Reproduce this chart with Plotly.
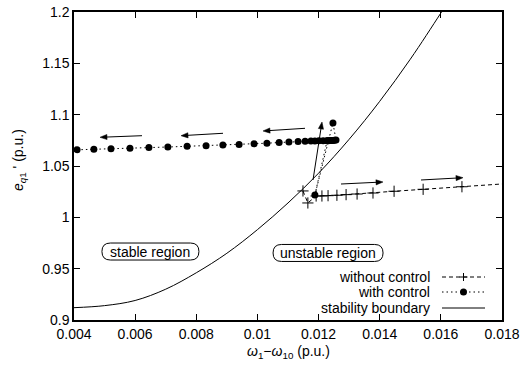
import math
import plotly.graph_objects as go

# ---------------- data ----------------
boundary_x = [0.004, 0.005, 0.006, 0.007, 0.008, 0.009, 0.010, 0.011, 0.012,
              0.013, 0.014, 0.015, 0.016, 0.0165]
boundary_y = [0.912, 0.914, 0.919, 0.930, 0.946, 0.965, 0.988, 1.014, 1.043,
              1.076, 1.113, 1.154, 1.199, 1.222]

without_x = [0.01149, 0.01165, 0.01192, 0.01211, 0.01231, 0.01260, 0.01290,
             0.01326, 0.01378, 0.01447, 0.01542, 0.01669, 0.01850]
without_y = [1.0257, 1.0140, 1.0208, 1.0208, 1.0211, 1.0215, 1.0221,
             1.0227, 1.0237, 1.0254, 1.0273, 1.0298, 1.0335]

with_x = [0.01228, 0.01188, 0.01247, 0.01257, 0.01252, 0.01247, 0.01242,
          0.01237, 0.01232, 0.01228, 0.01215, 0.01201, 0.01188, 0.01175,
          0.01156, 0.01133, 0.01103, 0.01071, 0.01031, 0.00989, 0.00940,
          0.00887, 0.00832, 0.00770, 0.00707, 0.00645, 0.00583, 0.00521,
          0.00465, 0.00410]
with_y = [1.0747, 1.0218, 1.0919, 1.0753, 1.0750, 1.0748, 1.0748,
          1.0748, 1.0747, 1.0747, 1.0746, 1.0745, 1.0744, 1.0743,
          1.0741, 1.0738, 1.0734, 1.0729, 1.0722, 1.0716, 1.0710,
          1.0705, 1.0698, 1.0692, 1.0685, 1.0679, 1.0673, 1.0667,
          1.0662, 1.0658]

x_ticks = [0.004, 0.006, 0.008, 0.01, 0.012, 0.014, 0.016, 0.018]
y_ticks = [0.9, 0.95, 1.0, 1.05, 1.1, 1.15, 1.2]
x_tick_labels = ["0.004", "0.006", "0.008", "0.01", "0.012", "0.014", "0.016", "0.018"]
y_tick_labels = ["0.9", "0.95", "1", "1.05", "1.1", "1.15", "1.2"]

# direction arrows: (tail_x, tail_y, head_x, head_y)
arrow_tail_x = [0.006224, 0.008874, 0.011556, 0.012734, 0.015351, 0.011818]
arrow_tail_y = [1.07952, 1.08186, 1.08672, 1.03247, 1.03637, 1.03637]
arrow_head_x = [0.00485, 0.00750, 0.010182, 0.014108, 0.016725, 0.012112]
arrow_head_y = [1.07796, 1.07950, 1.08410, 1.03442, 1.03861, 1.09286]

region_labels = ["stable region", "unstable region"]
region_x = [0.00650, 0.01231]
region_y = [0.9667, 0.9653]
region_w_px = [97, 110]

# ---------------- layout constants ----------------
W, H = 520, 367
ML, MR, MT, MB = 74, 18, 12, 47
XR = [0.004, 0.018]
YR = [0.9, 1.2]
PW, PH = W - ML - MR, H - MT - MB
DX = (XR[1] - XR[0]) / PW
DY = (YR[1] - YR[0]) / PH
FONT = "Liberation Sans, Arial, Helvetica, sans-serif"

fig = go.Figure()

fig.add_trace(go.Scatter(
    x=without_x, y=without_y, mode="lines+markers", name="without control",
    line=dict(color="black", width=1, dash="4px,3px"),
    marker=dict(symbol="cross-thin", size=8, line=dict(color="black", width=1)),
    showlegend=False, cliponaxis=True))

fig.add_trace(go.Scatter(
    x=with_x, y=with_y, mode="lines+markers", name="with control",
    line=dict(color="black", width=1, dash="1.5px,3px"),
    marker=dict(symbol="circle", size=7, color="black"),
    showlegend=False, cliponaxis=True))

fig.add_trace(go.Scatter(
    x=boundary_x, y=boundary_y, mode="lines", name="stability boundary",
    line=dict(color="black", width=1, shape="spline"),
    showlegend=False))

annotations = []
shapes = []

# arrows drawn as shapes: shaft + filled head
HEAD_L, HEAD_W = 7.0, 2.6
for tx, ty, hx, hy in zip(arrow_tail_x, arrow_tail_y, arrow_head_x, arrow_head_y):
    vx = (hx - tx) / DX
    vy = (hy - ty) / DY
    ln = math.hypot(vx, vy)
    ux, uy = vx / ln, vy / ln
    nx, ny = -uy, ux
    shapes.append(dict(type="line", xref="x", yref="y", x0=tx, y0=ty,
                       x1=hx - ux * HEAD_L * 0.8 * DX, y1=hy - uy * HEAD_L * 0.8 * DY,
                       line=dict(color="black", width=1)))
    bx, by = -ux * HEAD_L, -uy * HEAD_L
    p1 = (bx + nx * HEAD_W, by + ny * HEAD_W)
    p2 = (bx - nx * HEAD_W, by - ny * HEAD_W)
    path = f"M 0,0 L {p1[0]:.3f},{p1[1]:.3f} L {p2[0]:.3f},{p2[1]:.3f} Z"
    shapes.append(dict(type="path", xref="x", yref="y", xsizemode="pixel",
                       ysizemode="pixel", xanchor=hx, yanchor=hy, path=path,
                       fillcolor="black", line=dict(color="black", width=0.5)))

for lab, cx, cy, wpx in zip(region_labels, region_x, region_y, region_w_px):
    annotations.append(dict(x=cx, y=cy, xref="x", yref="y", text=lab,
                            showarrow=False, font=dict(size=14, color="black", family=FONT)))
    hpx = 17
    hw = wpx / 2 * DX
    hh = hpx / 2 * DY
    rx = hpx / 2 * DX
    x0, x1 = cx - hw, cx + hw
    y0, y1 = cy - hh, cy + hh
    path = (f"M {x0+rx},{y0} L {x1-rx},{y0} Q {x1},{y0} {x1},{cy} "
            f"Q {x1},{y1} {x1-rx},{y1} L {x0+rx},{y1} Q {x0},{y1} {x0},{cy} "
            f"Q {x0},{y0} {x0+rx},{y0} Z")
    shapes.append(dict(type="path", path=path, xref="x", yref="y",
                       line=dict(color="black", width=1)))

# manual gnuplot-style key (text then sample)
def px2paper_x(px):
    return (px - ML) / PW

def py2paper_y(py):
    return (H - MB - py) / PH

key_names = ["without control", "with control", "stability boundary"]
key_dash = ["4px,3px", "1.5px,3px", "solid"]
key_py = [277, 292, 308]
for name, dash, py in zip(key_names, key_dash, key_py):
    yp = py2paper_y(py)
    annotations.append(dict(x=px2paper_x(432), y=yp, xref="paper", yref="paper",
                            xanchor="right", yanchor="middle", text=name, showarrow=False,
                            font=dict(size=14, color="black", family=FONT)))
    shapes.append(dict(type="line", xref="paper", yref="paper",
                       x0=px2paper_x(442), x1=px2paper_x(485), y0=yp, y1=yp,
                       line=dict(color="black", width=1, dash=dash)))
# key markers
kx = px2paper_x(463.5)
ky = py2paper_y(277)
shapes.append(dict(type="line", xref="paper", yref="paper", xsizemode="pixel",
                   ysizemode="pixel", xanchor=kx, yanchor=ky,
                   x0=-4, x1=4, y0=0, y1=0, line=dict(color="black", width=1)))
shapes.append(dict(type="line", xref="paper", yref="paper", xsizemode="pixel",
                   ysizemode="pixel", xanchor=kx, yanchor=ky,
                   x0=0, x1=0, y0=-4, y1=4, line=dict(color="black", width=1)))
ky2 = py2paper_y(292)
shapes.append(dict(type="circle", xref="paper", yref="paper", xsizemode="pixel",
                   ysizemode="pixel", xanchor=kx, yanchor=ky2,
                   x0=-3.5, x1=3.5, y0=-3.5, y1=3.5,
                   fillcolor="black", line=dict(color="black", width=0)))

# axis titles
annotations.append(dict(x=0.5, y=py2paper_y(352), xref="paper", yref="paper",
                        text="<i>ω</i><sub>1</sub>−<i>ω</i><sub>10</sub> (p.u.)",
                        showarrow=False, yanchor="middle",
                        font=dict(size=14, color="black", family=FONT)))
annotations.append(dict(x=px2paper_x(19), y=py2paper_y(160), xref="paper", yref="paper",
                        text="<i>e</i><sub><i>q</i>1</sub> ' (p.u.)", textangle=-90,
                        showarrow=False, xanchor="center", yanchor="middle",
                        font=dict(size=14, color="black", family=FONT)))

axis_common = dict(showgrid=False, zeroline=False, showline=True, linecolor="black",
                   linewidth=1.5, mirror="allticks", ticks="inside", ticklen=6,
                   tickwidth=1, tickcolor="black",
                   tickfont=dict(size=14, color="black", family=FONT))

fig.update_layout(
    width=W, height=H,
    margin=dict(l=ML, r=MR, t=MT, b=MB, autoexpand=False),
    plot_bgcolor="white", paper_bgcolor="white",
    xaxis=dict(range=XR, tickvals=x_ticks, ticktext=x_tick_labels, **axis_common),
    yaxis=dict(range=YR, tickvals=y_ticks, ticktext=y_tick_labels, **axis_common),
    annotations=annotations, shapes=shapes,
    font=dict(family=FONT, color="black"),
    showlegend=False,
)

fig.write_html("out.html", config={"displayModeBar": False},
               post_script="document.body.style.margin='0';document.body.style.padding='0';")
